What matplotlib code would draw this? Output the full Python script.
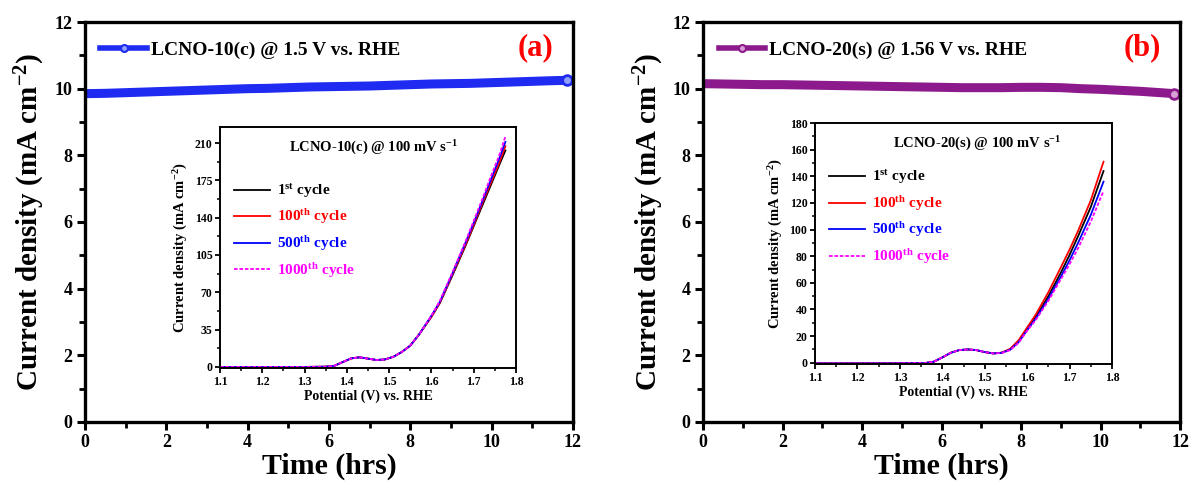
import matplotlib
matplotlib.use("Agg")
import matplotlib.pyplot as plt
from matplotlib.lines import Line2D
from matplotlib.ticker import MultipleLocator

plt.rcParams["font.family"] = ["Liberation Serif", "DejaVu Serif"]
plt.rcParams["font.weight"] = "bold"
plt.rcParams["mathtext.fontset"] = "custom"
plt.rcParams["mathtext.rm"] = "Liberation Serif:bold"
plt.rcParams["mathtext.it"] = "Liberation Serif:italic:bold"
plt.rcParams["mathtext.bf"] = "Liberation Serif:bold"

# chronoamperometry (main panels)
time_a = [0, 0.5, 1, 1.5, 2, 2.5, 3, 3.5, 4, 4.5, 5, 5.5, 6, 6.5, 7, 7.5,
          8, 8.5, 9, 9.5, 10, 10.5, 11, 11.5, 11.85]
j_a = [9.85, 9.86, 9.88, 9.90, 9.92, 9.94, 9.96, 9.98, 10.00, 10.01, 10.03,
       10.05, 10.06, 10.07, 10.08, 10.10, 10.12, 10.14, 10.15, 10.16, 10.18,
       10.20, 10.22, 10.24, 10.25]
time_b = time_a
j_b = [10.15, 10.14, 10.13, 10.12, 10.12, 10.11, 10.10, 10.09, 10.08, 10.07,
       10.06, 10.05, 10.04, 10.03, 10.03, 10.03, 10.04, 10.04, 10.03, 10.00,
       9.98, 9.95, 9.92, 9.88, 9.85]

# LSV insets
pot_a = [1.10, 1.20, 1.30, 1.35, 1.37, 1.39, 1.41, 1.43, 1.45, 1.47, 1.49,
         1.51, 1.53, 1.55, 1.57, 1.60, 1.62, 1.65, 1.68, 1.70, 1.72, 1.74,
         1.76, 1.775]
a_1st = [0, 0, 0, 0.2, 1.0, 4.5, 8.0, 9.0, 7.8, 6.5, 7.0, 9.5, 14, 20, 30,
         47, 60, 86, 113, 132, 151, 170, 189, 203]
a_100th = [0, 0, 0, 0.2, 1.0, 4.5, 8.0, 9.0, 7.8, 6.5, 7.0, 9.5, 14, 20, 30,
           47, 60, 87, 114, 133, 153, 172, 191, 207]
a_500th = [0, 0, 0, 0.2, 1.0, 4.5, 8.0, 9.0, 7.8, 6.5, 7.0, 9.5, 14, 20, 30,
           48, 61, 88, 116, 135, 155, 175, 195, 211]
a_1000th = [0, 0, 0, 0.2, 1.0, 4.5, 8.0, 9.0, 7.8, 6.5, 7.0, 9.5, 14, 20, 30,
            48, 62, 89, 117, 137, 157, 178, 198, 216]

pot_b = [1.10, 1.20, 1.30, 1.36, 1.38, 1.40, 1.42, 1.44, 1.46, 1.48, 1.50,
         1.52, 1.54, 1.56, 1.58, 1.60, 1.62, 1.65, 1.68, 1.70, 1.72, 1.75, 1.78]
b_1st = [-0.5, -0.5, -0.4, -0.2, 0.8, 4.0, 7.5, 9.5, 10.0, 9.5, 8.0, 7.0, 7.5,
         10, 16, 25, 34, 50, 68, 81, 95, 117, 144]
b_100th = [-0.5, -0.5, -0.4, -0.2, 0.8, 4.0, 7.5, 9.5, 10.0, 9.5, 8.0, 7.0,
           7.6, 10.5, 17, 26.5, 36, 53, 72, 85, 99, 122, 151]
b_500th = [-0.5, -0.5, -0.4, -0.2, 0.8, 4.0, 7.5, 9.5, 10.0, 9.5, 8.0, 7.0,
           7.4, 9.8, 15.5, 24.5, 33, 48, 65, 77, 90, 111, 136]
b_1000th = [-0.5, -0.5, -0.4, -0.2, 0.8, 4.0, 7.5, 9.5, 10.0, 9.5, 8.0, 7.0,
            7.3, 9.5, 15, 24, 32, 46.5, 63, 74, 86, 106, 129]

cycle_labels = ["1$^{\\mathrm{st}}$ cycle", "100$^{\\mathrm{th}}$ cycle",
                "500$^{\\mathrm{th}}$ cycle", "1000$^{\\mathrm{th}}$ cycle"]
cycle_colors = ["black", "red", "blue", "magenta"]
cycle_styles = ["-", "-", "-", (0, (2, 1))]

ylabel = "Current density (mA cm$^{\\mathrm{-2}}$)"

fig = plt.figure(figsize=(11.93, 4.90), dpi=100)
ax_a = fig.add_axes([0.0712, 0.1388, 0.4091, 0.8163])
ax_b = fig.add_axes([0.5893, 0.1388, 0.4000, 0.8163])
in_a = fig.add_axes([0.1844, 0.249, 0.2481, 0.4918])
in_b = fig.add_axes([0.6832, 0.257, 0.2489, 0.4918])


def style_main(ax):
    ax.set_xlim(0, 12)
    ax.set_ylim(0, 12)
    ax.xaxis.set_major_locator(MultipleLocator(2))
    ax.xaxis.set_minor_locator(MultipleLocator(1))
    ax.yaxis.set_major_locator(MultipleLocator(2))
    ax.yaxis.set_minor_locator(MultipleLocator(1))
    ax.tick_params(which="major", direction="out", length=6, width=2.2,
                   labelsize=13, pad=3)
    ax.tick_params(which="minor", direction="out", length=4, width=2.0)
    for s in ax.spines.values():
        s.set_linewidth(2.4)
    ax.set_xlabel("Time (hrs)", fontsize=21.5, fontweight="bold", labelpad=1)
    ax.set_ylabel(ylabel, fontsize=21, fontweight="bold", labelpad=5)


def style_inset(ax, ymax, ystep):
    ax.set_xlim(1.1, 1.8)
    ax.set_ylim(-1, ymax)
    ax.xaxis.set_major_locator(MultipleLocator(0.1))
    ax.xaxis.set_minor_locator(MultipleLocator(0.05))
    ax.yaxis.set_major_locator(MultipleLocator(ystep))
    ax.yaxis.set_minor_locator(MultipleLocator(ystep / 2))
    ax.tick_params(which="major", direction="out", length=3.5, width=1.3,
                   labelsize=8.5, pad=2)
    ax.tick_params(which="minor", direction="out", length=2, width=1.1)
    for s in ax.spines.values():
        s.set_linewidth(1.4)
    ax.set_xlabel("Potential (V) vs. RHE", fontsize=10, fontweight="bold",
                  labelpad=1)
    ax.set_ylabel(ylabel, fontsize=10.5, fontweight="bold", labelpad=3)


def draw_main(ax, t, j, color, face, label, tag):
    ax.plot(t, j, color=color, lw=6.5, solid_capstyle="round")
    ax.plot(t[-1], j[-1], "o", color=color, ms=7, mfc=face, mew=2)
    handle = Line2D([], [], color=color, lw=4, marker="o", ms=5, mfc=face,
                    mew=1.5)
    ax.legend([handle], [label], loc="upper left", frameon=False,
              fontsize=14, handlelength=2.4, handletextpad=0.2,
              bbox_to_anchor=(0.0, 0.99), borderaxespad=0.4)
    ax.text(0.96, 0.935, tag, transform=ax.transAxes, color="red",
            fontsize=22, fontweight="bold", ha="right", va="center")
    style_main(ax)


def draw_inset(ax, pot, curves, title, ymax, ystep, title_x, leg_top):
    for vals, c, ls, lab in zip(curves, cycle_colors, cycle_styles,
                                cycle_labels):
        ax.plot(pot, vals, color=c, ls=ls, lw=1.3, label=lab)
    style_inset(ax, ymax, ystep)
    ax.text(title_x, 0.915, title, transform=ax.transAxes, ha="center",
            va="center", fontsize=10.5, fontweight="bold")
    leg = ax.legend(loc="upper left", bbox_to_anchor=(0.0, leg_top),
                    frameon=False, fontsize=11, handlelength=2.4,
                    handletextpad=0.4, labelspacing=0.5)
    for txt, c in zip(leg.get_texts(), cycle_colors):
        txt.set_color(c)


draw_main(ax_a, time_a, j_a, "#1f2bf0", "#8fa0ff",
          "LCNO-10(c) @ 1.5 V vs. RHE", "(a)")
draw_main(ax_b, time_b, j_b, "#8c1a8c", "#d7a0d7",
          "LCNO-20(s) @ 1.56 V vs. RHE", "(b)")

draw_inset(in_a, pot_a, [a_1st, a_100th, a_500th, a_1000th],
           "LCNO-10(c) @ 100 mV s$^{\\mathrm{-1}}$", 225, 35, 0.52, 0.83)
draw_inset(in_b, pot_b, [b_1st, b_100th, b_500th, b_1000th],
           "LCNO-20(s) @ 100 mV s$^{\\mathrm{-1}}$", 180, 20, 0.545, 0.87)

fig.savefig("out.png", dpi=100)
